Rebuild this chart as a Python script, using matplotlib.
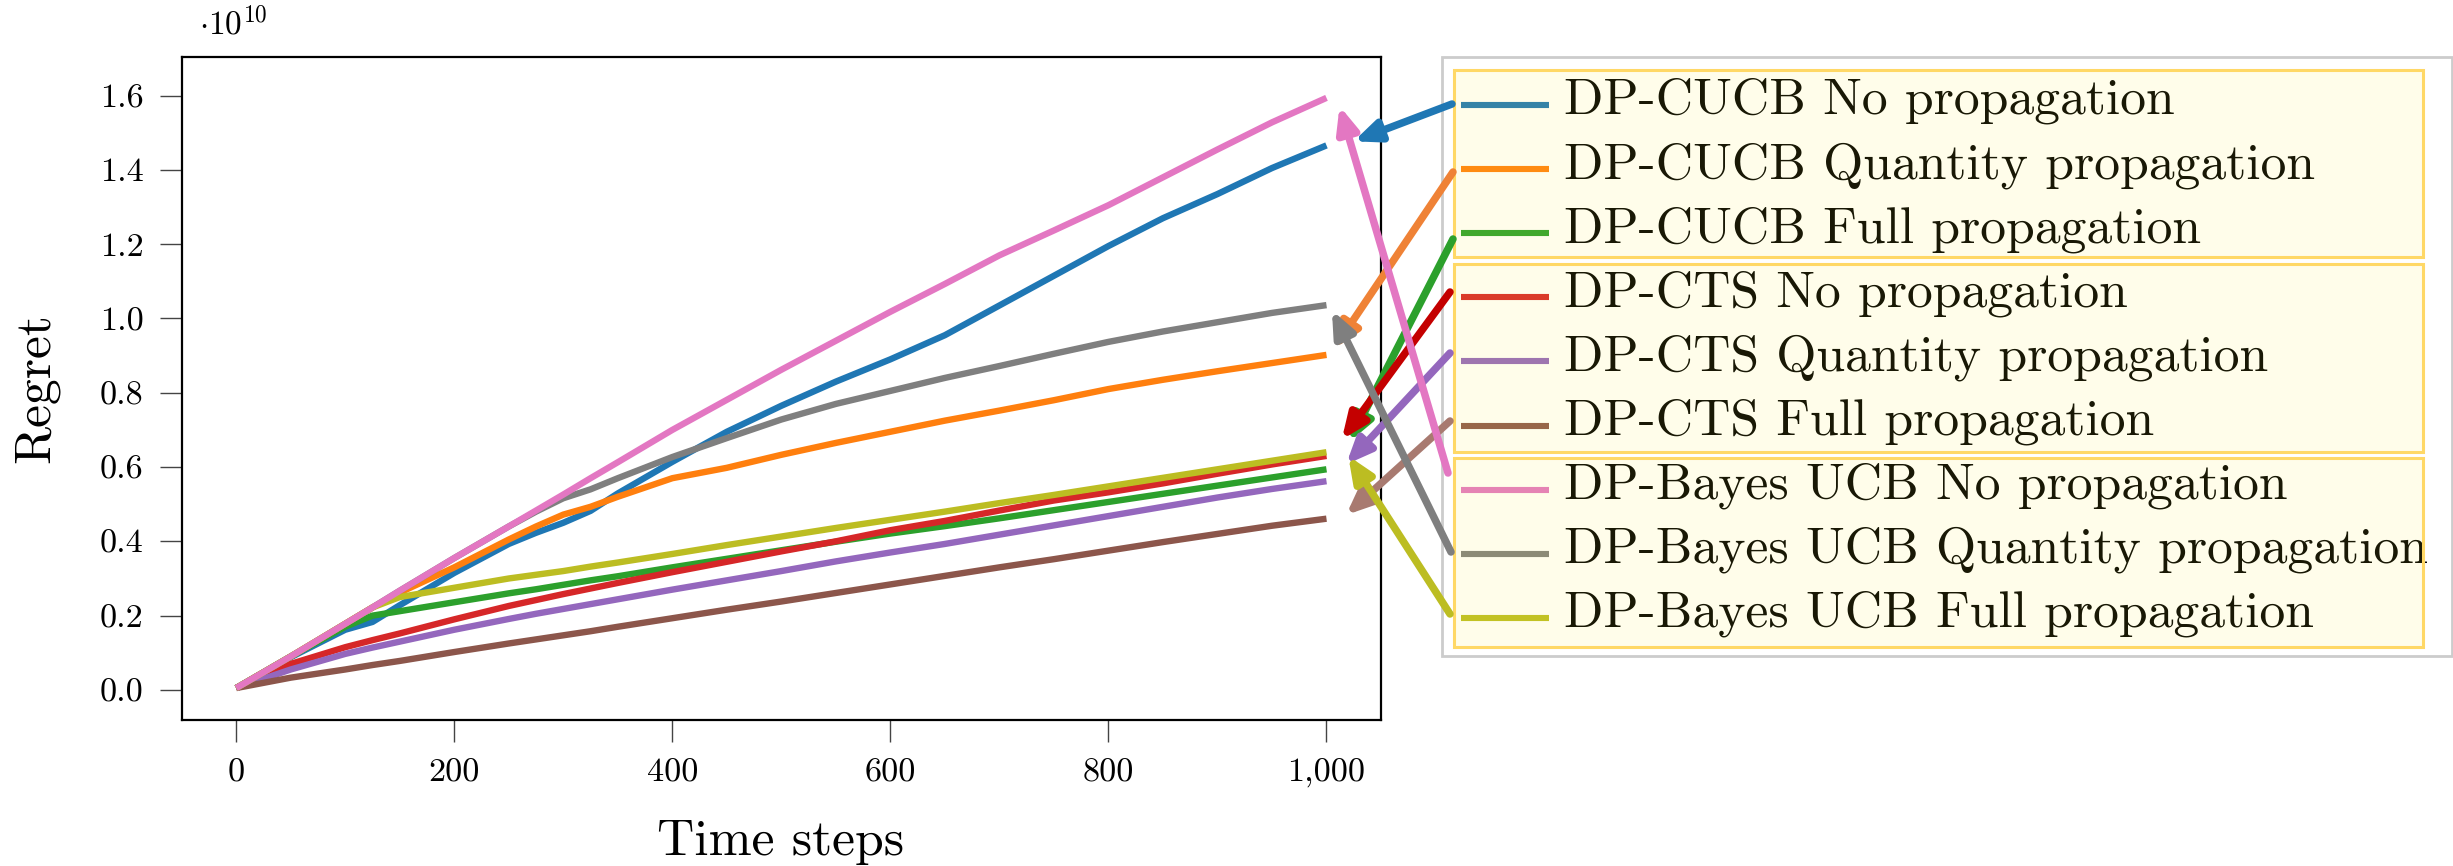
import matplotlib
matplotlib.use("Agg")
import matplotlib.pyplot as plt
from matplotlib.patches import Rectangle, ConnectionPatch, ArrowStyle
from matplotlib.lines import Line2D

plt.rcParams['font.family'] = 'serif'
plt.rcParams['font.serif'] = ['cmr10', 'DejaVu Serif']
plt.rcParams['mathtext.fontset'] = 'cm'
plt.rcParams['axes.unicode_minus'] = False
plt.rcParams['axes.formatter.use_mathtext'] = True

# ---------------------------------------------------------------- data
# cumulative regret, in units of 1e10
steps = [0, 50, 100, 125, 150, 200, 250, 275, 300, 325, 350, 400, 450,
         500, 550, 600, 650, 700, 750, 800, 850, 900, 950, 1000]

cucb_none = [0.005, 0.088, 0.162, 0.183, 0.228, 0.315, 0.393, 0.423, 0.450, 0.482,
             0.529, 0.614, 0.695, 0.765, 0.830, 0.890, 0.955, 1.035, 1.115, 1.195,
             1.270, 1.335, 1.405, 1.466]
cucb_quantity = [0.005, 0.090, 0.178, 0.222, 0.262, 0.330, 0.405, 0.440, 0.472, 0.493,
                 0.520, 0.570, 0.598, 0.633, 0.665, 0.695, 0.725, 0.752, 0.780, 0.810,
                 0.835, 0.858, 0.880, 0.902]
cucb_full = [0.005, 0.090, 0.170, 0.200, 0.212, 0.236, 0.260, 0.271, 0.283, 0.295,
             0.306, 0.330, 0.353, 0.376, 0.399, 0.421, 0.441, 0.462, 0.484, 0.506,
             0.528, 0.550, 0.572, 0.594]
cts_none = [0.005, 0.070, 0.115, 0.134, 0.152, 0.190, 0.226, 0.242, 0.258, 0.273,
            0.288, 0.317, 0.345, 0.373, 0.400, 0.430, 0.455, 0.483, 0.510, 0.532,
            0.556, 0.582, 0.607, 0.630]
cts_quantity = [0.005, 0.055, 0.097, 0.114, 0.130, 0.162, 0.191, 0.205, 0.218, 0.231,
                0.244, 0.270, 0.295, 0.320, 0.346, 0.370, 0.393, 0.418, 0.443, 0.468,
                0.493, 0.518, 0.541, 0.562]
cts_full = [0.005, 0.033, 0.055, 0.067, 0.078, 0.102, 0.125, 0.136, 0.147, 0.158,
            0.170, 0.193, 0.216, 0.238, 0.261, 0.284, 0.307, 0.330, 0.352, 0.375,
            0.398, 0.420, 0.442, 0.461]
bayes_none = [0.005, 0.090, 0.178, 0.222, 0.267, 0.355, 0.440, 0.483, 0.526, 0.570,
              0.613, 0.700, 0.781, 0.862, 0.940, 1.018, 1.093, 1.170, 1.237, 1.305,
              1.380, 1.455, 1.528, 1.594]
bayes_quantity = [0.005, 0.090, 0.178, 0.222, 0.267, 0.355, 0.440, 0.480, 0.516, 0.540,
                  0.570, 0.627, 0.678, 0.728, 0.770, 0.805, 0.840, 0.872, 0.905, 0.937,
                  0.965, 0.990, 1.015, 1.036]
bayes_full = [0.005, 0.090, 0.178, 0.222, 0.250, 0.275, 0.300, 0.310, 0.320, 0.332,
              0.343, 0.366, 0.390, 0.413, 0.436, 0.458, 0.480, 0.503, 0.525, 0.548,
              0.571, 0.594, 0.617, 0.640]

series = [cucb_none, cucb_quantity, cucb_full,
          cts_none, cts_quantity, cts_full,
          bayes_none, bayes_quantity, bayes_full]

labels = ["DP-CUCB No propagation", "DP-CUCB Quantity propagation",
          "DP-CUCB Full propagation",
          "DP-CTS No propagation", "DP-CTS Quantity propagation",
          "DP-CTS Full propagation",
          "DP-Bayes UCB No propagation", "DP-Bayes UCB Quantity propagation",
          "DP-Bayes UCB Full propagation"]

line_colors = ["#1f77b4", "#ff7f0e", "#2ca02c", "#d62728", "#9467bd",
               "#8c564b", "#e377c2", "#7f7f7f", "#bcbd22"]
arrow_colors = ["#1f77b4", "#ef8236", "#2ca02c", "#c40000", "#9467bd",
                "#a87a70", "#e377c2", "#7f7f7f", "#bcbd22"]

x_ticks = [0, 200, 400, 600, 800, 1000]
x_tick_labels = ["0", "200", "400", "600", "800", "1,000"]
y_ticks = [0.0, 0.2, 0.4, 0.6, 0.8, 1.0, 1.2, 1.4, 1.6]
y_tick_labels = ["0.0", "0.2", "0.4", "0.6", "0.8", "1.0", "1.2", "1.4", "1.6"]

# where each callout arrow lands, in data coordinates
tip_x = [1025, 1007, 1021, 1014, 1018, 1018, 1012, 1005, 1020]
tip_y = [1.477, 0.919, 0.668, 0.674, 0.607, 0.471, 1.572, 1.022, 0.630]

# ---------------------------------------------------------------- layout
W, H, DPI = 2453, 866, 200
fig = plt.figure(figsize=(W / DPI, H / DPI), dpi=DPI)


def fx(px):
    return px / W


def fy(py):
    return 1 - py / H


ax = fig.add_axes([fx(181.7), fy(720), fx(1381) - fx(181.7), fy(57) - fy(720)])

order_z = [3, 3, 3, 3, 3, 3, 4, 3, 3]
for vals, col, lab, z in zip(series, line_colors, labels, order_z):
    ax.plot(steps, vals, color=col, lw=2.3, label=lab, zorder=z,
            solid_capstyle='butt', solid_joinstyle='round')

ax.set_xlim(-50, 1050)
ax.set_ylim(-0.081, 1.704)
ax.set_xticks(x_ticks, x_tick_labels)
ax.set_yticks(y_ticks, y_tick_labels)
ax.tick_params(direction='out', length=7.8, width=0.5, color='#444444',
               labelsize=12.3, pad=6)
for sp in ax.spines.values():
    sp.set_linewidth(0.8)

fig.text(fx(199), fy(35), r'$\cdot 10^{10}$', fontsize=12, ha='left', va='baseline')
fig.text(fx(781), fy(855), "Time steps", fontsize=18.6, ha='center', va='baseline')
fig.text(fx(36), fy(388), "Regret", fontsize=18.6, rotation=90, ha='center', va='center')

# ---------------------------------------------------------------- legend
fig.add_artist(Rectangle((fx(1441.5), fy(656)), fx(2451.5) - fx(1441.5), fy(57) - fy(656),
                         transform=fig.transFigure, facecolor='white',
                         edgecolor='#cccccc', lw=1.0, zorder=2))

entry_y = [105 + 64.1 * i for i in range(9)]
for ey, col, lab in zip(entry_y, line_colors, labels):
    fig.add_artist(Line2D([fx(1461), fx(1549)], [fy(ey), fy(ey)],
                          transform=fig.transFigure, color=col, lw=2.2,
                          solid_capstyle='butt', zorder=3))
    fig.text(fx(1564), fy(ey + 9), lab, fontsize=18.6, ha='left', va='baseline',
             zorder=3)

group_bounds = [(69.5, 257), (263.7, 452), (458, 647)]
for top, bot in group_bounds:
    fig.add_artist(Rectangle((fx(1454), fy(bot)), fx(2422.7) - fx(1454), fy(top) - fy(bot),
                             transform=fig.transFigure, facecolor='#fff53a',
                             alpha=0.10, edgecolor='none', zorder=5))
    fig.add_artist(Rectangle((fx(1454), fy(bot)), fx(2422.7) - fx(1454), fy(top) - fy(bot),
                             transform=fig.transFigure, facecolor='none',
                             edgecolor='#ffd866', lw=1.1, zorder=6))

# ---------------------------------------------------------------- callout arrows
tail_px = [(1452, 104), (1453, 172), (1453, 239), (1450, 292), (1450, 353),
           (1450, 421), (1448, 473), (1451, 552), (1450, 614)]
style = ArrowStyle('-|>', head_length=0.75, head_width=0.32)
for (tx, ty), hx, hy, col in zip(tail_px, tip_x, tip_y, arrow_colors):
    con = ConnectionPatch(xyA=(fx(tx), fy(ty)), coordsA='figure fraction',
                          xyB=(hx, hy), coordsB=ax.transData,
                          arrowstyle=style, mutation_scale=10, color=col,
                          lw=2.7, shrinkA=0, shrinkB=0, zorder=7)
    fig.add_artist(con)

fig.savefig("out.png", dpi=DPI)
